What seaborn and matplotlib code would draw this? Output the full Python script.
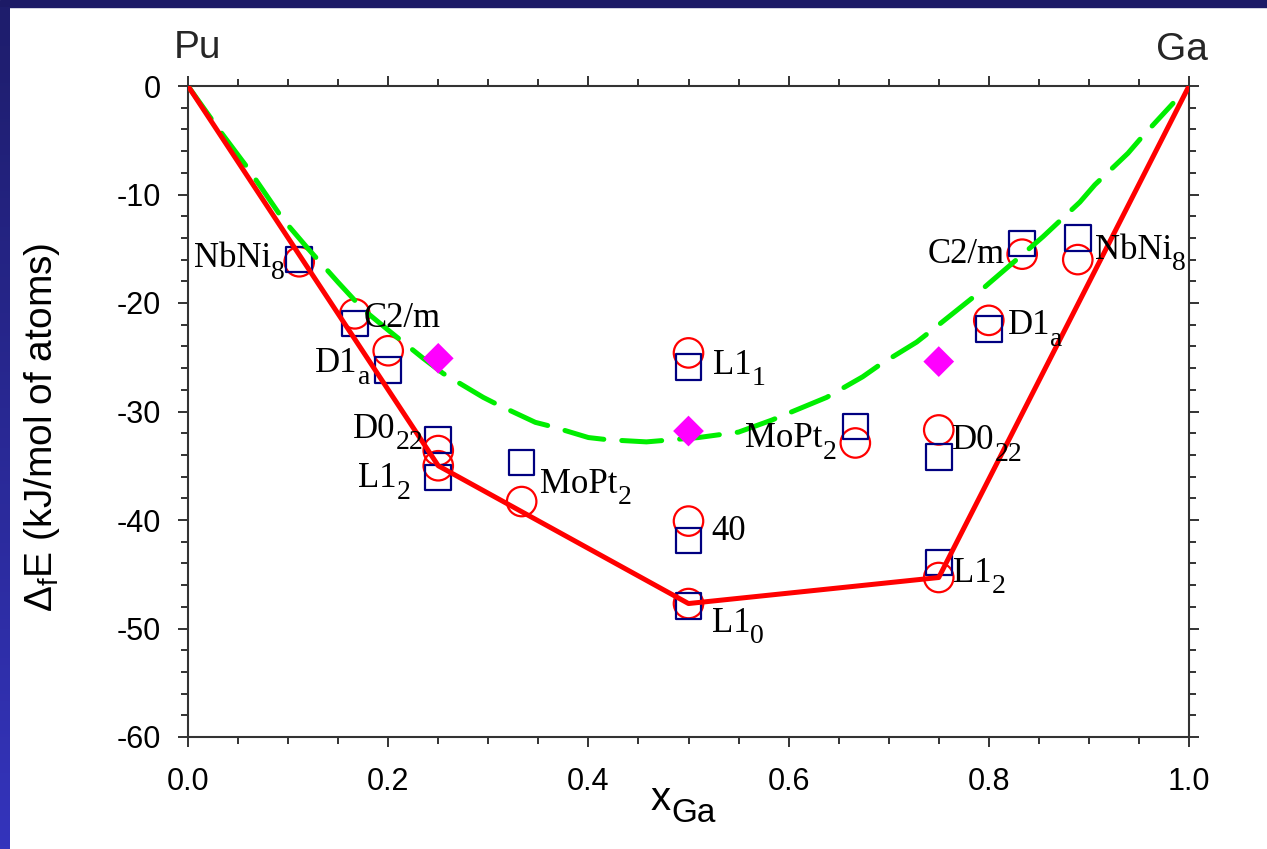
import numpy as np
import pandas as pd
import matplotlib
matplotlib.use("Agg")
import matplotlib.pyplot as plt
import seaborn as sns
from matplotlib.patches import Rectangle
from matplotlib.colors import LinearSegmentedColormap
from matplotlib.ticker import MultipleLocator, FormatStrFormatter

# ---- data -------------------------------------------------------------
# Ga mole fraction of each computed Pu-Ga structure
x_ga = [1/9, 1/6, 1/5, 1/4, 1/4, 1/3, 1/2, 1/2, 1/2, 2/3, 3/4, 3/4, 4/5, 5/6, 8/9]
# structure names, split into body and subscript
struct_main = ["NbNi", "C2/m", "D1", "D0", "L1", "MoPt", "L1", "40", "L1",
               "MoPt", "D0", "L1", "D1", "C2/m", "NbNi"]
struct_sub = ["8", "", "a", "22", "2", "2", "1", "", "0",
              "2", "22", "2", "a", "", "8"]
# formation energies (kJ/mol of atoms), two calculation sets
e_circle = [-16.2, -21.0, -24.4, -33.6, -35.0, -38.3, -24.6, -40.1, -47.7,
            -32.9, -31.7, -45.3, -21.6, -15.5, -16.0]
e_square = [-16.0, -21.9, -26.2, -32.6, -36.1, -34.7, -25.9, -41.9, -47.9,
            -31.4, -34.2, -43.9, -22.4, -14.5, -14.0]

# convex hull of the ground states
hull_x = [0.0, 0.25, 0.5, 0.75, 1.0]
hull_e = [0.0, -35.0, -47.7, -45.3, 0.0]

# CALPHAD-type assessment curve
calphad_x = [0.0, 0.03, 0.06, 0.095, 0.12, 0.15, 0.175, 0.2, 0.235, 0.255, 0.295,
             0.31, 0.347, 0.364, 0.40, 0.419, 0.458, 0.51, 0.55, 0.583, 0.638,
             0.674, 0.691, 0.728, 0.746, 0.784, 0.80, 0.824, 0.854, 0.891, 0.906,
             0.939, 0.953, 0.984]
calphad_e = [0.0, -3.9, -7.6, -12.3, -15.0, -18.1, -20.6, -22.5, -25.1, -26.5, -28.7,
             -29.4, -31.0, -31.4, -32.4, -32.6, -32.8, -32.4, -31.9, -30.8, -28.7,
             -26.8, -25.7, -23.6, -22.3, -19.5, -18.2, -16.3, -13.9, -10.7, -9.1,
             -6.2, -4.7, -1.6]

# additional reference energies
ref_x = [0.25, 0.5, 0.75]
ref_e = [-25.1, -31.8, -25.4]

# ---- layout of structure labels (anchor x, baseline y, alignment) ------
label_layout = [(0.097, -16.7, "right"), (0.175, -22.2, "left"), (0.182, -26.4, "right"),
                (0.235, -32.4, "right"), (0.222, -37.0, "right"), (0.352, -37.5, "left"),
                (0.524, -26.5, "left"), (0.523, -41.8, "left"), (0.523, -50.3, "left"),
                (0.648, -33.3, "right"), (0.763, -33.5, "left"), (0.764, -45.7, "left"),
                (0.819, -22.9, "left"), (0.816, -16.3, "right"), (0.906, -15.9, "left")]
SUB_DROP = 1.05  # baseline shift of subscripts, in data units

sns.set_theme(style="ticks")
plt.rcParams["font.family"] = ["Liberation Sans", "DejaVu Sans"]
plt.rcParams["axes.unicode_minus"] = False
plt.rcParams["mathtext.default"] = "regular"

W, H = 1267, 849
fig = plt.figure(figsize=(W / 100, H / 100), dpi=100, facecolor="white")

# slide frame: dark top band and blue gradient on the left edge
fig.add_artist(Rectangle((0, 1 - 7 / H), 1, 7 / H, transform=fig.transFigure,
                         color="#1c1a66", zorder=0))
band = fig.add_axes([0, 0, 10 / W, 1 - 7 / H])
grad = np.linspace(0, 1, 256).reshape(-1, 1)
band.imshow(grad, aspect="auto",
            cmap=LinearSegmentedColormap.from_list("band", ["#1e1d6c", "#3434bc"]))
band.set_axis_off()

ax = fig.add_axes([188 / W, 1 - 737 / H, 1001 / W, 651 / H])
ax.set_facecolor("white")

df_struct = pd.DataFrame({"x": x_ga, "circle": e_circle, "square": e_square})
df_hull = pd.DataFrame({"x": hull_x, "e": hull_e})
df_calphad = pd.DataFrame({"x": calphad_x, "e": calphad_e})
df_ref = pd.DataFrame({"x": ref_x, "e": ref_e})

sns.scatterplot(data=df_struct, x="x", y="circle", ax=ax, marker="o", s=450,
                color="none", edgecolor="#ff0000", linewidth=1.6, zorder=3)
sns.scatterplot(data=df_struct, x="x", y="square", ax=ax, marker="s", s=340,
                color="none", edgecolor="#000080", linewidth=1.6, zorder=3)
sns.lineplot(data=df_calphad, x="x", y="e", ax=ax, sort=False, estimator=None,
             color="#00ee00", linewidth=3.6, linestyle=(0, (8, 3.6)),
             dash_capstyle="round", zorder=4)
sns.lineplot(data=df_hull, x="x", y="e", ax=ax, sort=False, estimator=None,
             color="#ff0000", linewidth=3.6, zorder=5)
sns.scatterplot(data=df_ref, x="x", y="e", ax=ax, marker="D", s=245,
                color="#ff00ff", edgecolor="none", zorder=6)

main_kw = dict(fontsize=25, family="Liberation Serif", color="black", va="baseline", zorder=7)
sub_kw = dict(fontsize=20, family="Liberation Serif", color="black", va="baseline", zorder=7)
for body, sub, (lx, ly, ha) in zip(struct_main, struct_sub, label_layout):
    if ha == "left":
        t = ax.text(lx, ly, body, ha="left", **main_kw)
        if sub:
            ax.annotate(sub, xy=(1, ly - SUB_DROP), xycoords=(t, "data"), ha="left", **sub_kw)
    else:
        if sub:
            s = ax.text(lx, ly - SUB_DROP, sub, ha="right", **sub_kw)
            ax.annotate(body, xy=(0, ly), xycoords=(s, "data"), ha="right", **main_kw)
        else:
            ax.text(lx, ly, body, ha="right", **main_kw)

ax.text(0.009, 2.6, "Pu", ha="center", va="baseline", fontsize=28, clip_on=False)
ax.text(0.993, 2.4, "Ga", ha="center", va="baseline", fontsize=28, clip_on=False)

ax.set_xlim(0, 1)
ax.set_ylim(-60, 0)
ax.xaxis.set_major_locator(MultipleLocator(0.2))
ax.xaxis.set_minor_locator(MultipleLocator(0.05))
ax.yaxis.set_major_locator(MultipleLocator(10))
ax.yaxis.set_minor_locator(MultipleLocator(2))
ax.xaxis.set_major_formatter(FormatStrFormatter("%.1f"))
ax.yaxis.set_major_formatter(FormatStrFormatter("%d"))

ax.tick_params(which="both", direction="out", top=True, right=True,
               color="#333333", width=1.4)
ax.tick_params(which="major", length=7.5)
ax.tick_params(which="minor", length=5)
ax.tick_params(axis="y", which="major", labelsize=22, pad=12, labelcolor="black")
ax.tick_params(axis="x", which="major", labelsize=22, pad=14, labelcolor="black")
for side in ["left", "right", "top", "bottom"]:
    ax.spines[side].set_visible(True)
    ax.spines[side].set_color("#333333")
    ax.spines[side].set_linewidth(1.5)

# x label: "x" with a large "Ga" subscript
ax.set_xlabel("x", fontsize=29, color="black")
ax.xaxis.set_label_coords(0.472, -0.066)
ax.annotate("Ga", xy=(1, 0), xycoords=ax.xaxis.label, xytext=(0.5, -8),
            textcoords="offset points", ha="left", va="bottom", fontsize=24, color="black")

ax.set_ylabel(r"$\mathregular{Δ_fE}$ (kJ/mol of atoms)", fontsize=28, color="black")
ax.yaxis.set_label_coords(-0.126, 0.475)

fig.savefig("out.png", dpi=100, facecolor="white")
